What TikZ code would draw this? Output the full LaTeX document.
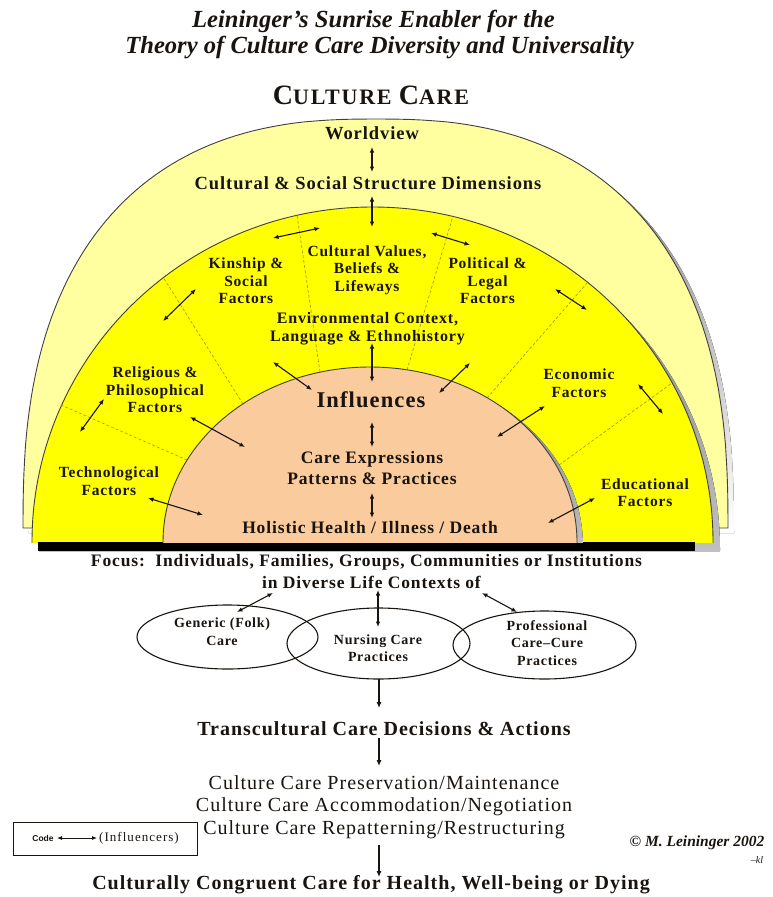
\documentclass[tikz,border=0pt]{standalone}
\usepackage{fontspec}
\setmainfont{Liberation Serif}
\setsansfont{Liberation Sans}
\newfontfamily\spaced[LetterSpace=5]{Liberation Serif}
\newfontfamily\wide[LetterSpace=8]{Liberation Serif}
\newfontfamily\headfont{Liberation Serif Bold Italic}
\usetikzlibrary{arrows.meta,shapes.geometric}

\definecolor{pale}{RGB}{255,255,160}
\definecolor{sun}{RGB}{255,255,0}
\definecolor{peach}{RGB}{250,203,156}
\definecolor{shade}{RGB}{128,128,128}
\definecolor{ink}{RGB}{25,20,15}
\definecolor{divider}{RGB}{150,150,30}

\tikzset{
  infl/.style={{Latex[length=5.5pt,width=4.5pt]}-{Latex[length=5.5pt,width=4.5pt]}, line width=1.1pt, draw=ink},
  flow/.style={-{Latex[length=6pt,width=5pt]}, line width=1.1pt, draw=ink},
  rim/.style={draw=black!75, line width=0.9pt},
  sector/.style={draw=divider, densely dashed, line width=0.6pt},
  factor/.style={font=\spaced\bfseries\fontsize{15.5}{17.5}\selectfont, align=center, text=ink, inner sep=0pt},
  layer/.style={font=\spaced\bfseries\fontsize{18.5}{20}\selectfont, text=ink, inner sep=0pt},
  core/.style={font=\spaced\bfseries\fontsize{17.5}{21}\selectfont, align=center, text=ink, inner sep=0pt},
  focus/.style={font=\spaced\bfseries\fontsize{17.5}{20}\selectfont, text=ink, inner sep=0pt},
  action/.style={font=\spaced\bfseries\fontsize{20}{22}\selectfont, text=ink, inner sep=0pt},
  mode/.style={font=\spaced\fontsize{20}{22}\selectfont, text=ink, inner sep=0pt},
  practice/.style={font=\spaced\bfseries\fontsize{14}{17.5}\selectfont, align=center, text=ink, inner sep=0pt},
  practiceoval/.style={draw=ink, line width=1.1pt, ellipse, inner sep=0pt},
  title/.style={font=\headfont\fontsize{24.6}{26}\selectfont, text=ink, inner sep=0pt}
}

\begin{document}
\begin{tikzpicture}[x=1pt,y=-1pt]
\useasboundingbox (0,0) rectangle (772,897);
\fill[white] (0,0) rectangle (772,897);

% ---- headings
\node[title] (t1) at (373.5,21) {Leininger’s Sunrise Enabler for the};
\node[title] (t2) at (379.5,47) {Theory of Culture Care Diversity and Universality};
\node[font=\wide\bfseries\fontsize{22}{22}\selectfont, text=ink, inner sep=0pt] (cc) at (371,95)
  {{\fontsize{28}{28}\selectfont C}ULTURE {\fontsize{28}{28}\selectfont C}ARE};

% ---- outer dome (worldview): a superellipse cap, with its shadow
\begin{scope}[shift={(6,5)}]
\fill[shade] plot[domain=0:90, samples=60] ({375.5+352.5*pow(abs(cos(\x)),0.8)}, {528-409*pow(abs(sin(\x)),0.8)})
  -- plot[domain=90:180, samples=60] ({375.5-352.5*pow(abs(cos(\x)),0.8)}, {528-409*pow(abs(sin(\x)),0.8)}) -- cycle;
\end{scope}
\filldraw[fill=pale, rim] plot[domain=0:90, samples=60] ({375.5+352.5*pow(abs(cos(\x)),0.8)}, {528-409*pow(abs(sin(\x)),0.8)})
  -- plot[domain=90:180, samples=60] ({375.5-352.5*pow(abs(cos(\x)),0.8)}, {528-409*pow(abs(sin(\x)),0.8)}) -- cycle;

% ---- cultural & social structure ring
\begin{scope}
\clip (0,0) rectangle (772,551);
\fill[shade] (379.5,549) ellipse [x radius=340.5, y radius=335];
\end{scope}
\begin{scope}
\clip (0,0) rectangle (772,542.5);
\fill[sun] (372.5,542) ellipse [x radius=340.5, y radius=335];
\draw[rim] (372.5,542) ellipse [x radius=340.5, y radius=335];
\end{scope}
\fill[black] (38,542) rectangle (695,551);

% sector dividers
\draw[sector] (187,460) -- (61,405);
\draw[sector] (243,404) -- (163,277);
\draw[sector] (320,372) -- (297,215);
\draw[sector] (407,370) -- (453,216);
\draw[sector] (487,398) -- (588,282);
\draw[sector] (555,468) -- (672,383);

% ---- inner half (care) with its shadow
\begin{scope}
\clip (0,0) rectangle (772,542.5);
\fill[shade] (376,546) ellipse [x radius=207, y radius=175];
\fill[peach] (370,542) ellipse [x radius=207, y radius=175];
\draw[rim] (370,542) ellipse [x radius=207, y radius=175];
\end{scope}

% ---- labels inside the dome
\node[layer] (wv) at (372,133) {Worldview};
\node[layer] (css) at (368,183) {Cultural \& Social Structure Dimensions};
\node[factor] (kin) at (246,281) {Kinship \&\\Social\\Factors};
\node[factor] (cvb) at (367,270) {Cultural Values,\\Beliefs \&\\Lifeways};
\node[factor] (pol) at (487.5,281) {Political \&\\Legal\\Factors};
\node[factor, font=\spaced\bfseries\fontsize{16}{18}\selectfont] (env) at (367.5,329) {Environmental Context,\\Language \& Ethnohistory};
\node[factor] (rel) at (155,390) {Religious \&\\Philosophical\\Factors};
\node[factor] (tech) at (109,481) {Technological\\Factors};
\node[factor] (econ) at (579,383) {Economic\\Factors};
\node[factor] (edu) at (645,492.5) {Educational\\Factors};
\node[core, font=\spaced\bfseries\fontsize{22.5}{24}\selectfont] (infl) at (371,400) {Influences};
\node[core] (care) at (372,468.5) {Care Expressions\\Patterns \& Practices};
\node[core] (hol) at (370,528) {Holistic Health / Illness / Death};

% arrow end points inside the dome
\coordinate (wvA) at (372,147);   \coordinate (wvB) at (372,172);
\coordinate (csA) at (372,196);   \coordinate (csB) at (372,227);
\coordinate (kinA) at (273,238);  \coordinate (kinB) at (320,228);
\coordinate (polA) at (431,233);  \coordinate (polB) at (470,245);
\coordinate (relA) at (163,321);  \coordinate (relB) at (196,289);
\coordinate (tecA) at (80,432);   \coordinate (tecB) at (104,399);
\coordinate (ecoA) at (555,289);  \coordinate (ecoB) at (587,310);
\coordinate (eduA) at (638,384);  \coordinate (eduB) at (663,414);
\coordinate (envA) at (372,343);  \coordinate (envB) at (372,382);
\coordinate (elA) at (273,362);   \coordinate (elB) at (312,390);
\coordinate (erA) at (470,363);   \coordinate (erB) at (439,393);
\coordinate (rpA) at (190,417);   \coordinate (rpB) at (245,447);
\coordinate (epA) at (545,406);   \coordinate (epB) at (497,437);
\coordinate (tpA) at (148,498);   \coordinate (tpB) at (203,515);
\coordinate (dpA) at (595,498);   \coordinate (dpB) at (548,523);
\coordinate (icA) at (372,422);   \coordinate (icB) at (372,447);
\coordinate (chA) at (372,493);   \coordinate (chB) at (372,518);

\draw[infl] (wvA) -- (wvB);
\draw[infl] (csA) -- (csB);
\draw[infl] (kinA) -- (kinB);
\draw[infl] (polA) -- (polB);
\draw[infl] (relA) -- (relB);
\draw[infl] (tecA) -- (tecB);
\draw[infl] (ecoA) -- (ecoB);
\draw[infl] (eduA) -- (eduB);
\draw[infl] (envA) -- (envB);
\draw[infl] (elA) -- (elB);
\draw[infl] (erA) -- (erB);
\draw[infl] (rpA) -- (rpB);
\draw[infl] (epA) -- (epB);
\draw[infl] (tpA) -- (tpB);
\draw[infl] (dpA) -- (dpB);
\draw[infl] (icA) -- (icB);
\draw[infl] (chA) -- (chB);

% ---- focus and care systems
\node[focus] (foc1) at (366.5,562) {Focus:\ \ Individuals, Families, Groups, Communities or Institutions};
\node[focus] (foc2) at (371.5,582) {in Diverse Life Contexts of};

\node[practiceoval, minimum width=181pt, minimum height=64pt] (genE) at (227.5,637) {};
\node[practiceoval, minimum width=183pt, minimum height=71pt] (nurE) at (378.5,643.5) {};
\node[practiceoval, minimum width=183pt, minimum height=68pt] (proE) at (544.5,645) {};
\node[practice] (gen) at (222,631.5) {Generic (Folk)\\Care};
\node[practice] (nur) at (378,648) {Nursing Care\\Practices};
\node[practice] (pro) at (547,643) {Professional\\Care–Cure\\Practices};

\coordinate (fgA) at (273,593);  \coordinate (fgB) at (237,612);
\coordinate (fnA) at (378,590);  \coordinate (fnB) at (378,627);
\coordinate (fpA) at (482,593);  \coordinate (fpB) at (517,612);
\draw[infl] (fgA) -- (fgB);
\draw[infl] (fnA) -- (fnB);
\draw[infl] (fpA) -- (fpB);

% ---- decisions and outcome
\node[action] (dec) at (384,729) {Transcultural Care Decisions \& Actions};
\node[mode] (m1) at (384,783) {Culture Care Preservation/Maintenance};
\node[mode] (m2) at (384,806.5) {Culture Care Accommodation/Negotiation};
\node[mode] (m3) at (384,830) {Culture Care Repatterning/Restructuring};
\node[action] (out) at (371,885) {Culturally Congruent Care for Health, Well-being or Dying};

\coordinate (d1A) at (379,679); \coordinate (d1B) at (379,708);
\coordinate (d2A) at (379,738); \coordinate (d2B) at (379,766);
\coordinate (d3A) at (379,845); \coordinate (d3B) at (379,877);
\draw[flow] (d1A) -- (d1B);
\draw[flow] (d2A) -- (d2B);
\draw[flow] (d3A) -- (d3B);

% ---- key
\node[draw=ink, line width=0.9pt, minimum width=184pt, minimum height=33pt, inner sep=0pt] (key) at (105,838.5) {};
\node[font=\sffamily\bfseries\fontsize{8.5}{10}\selectfont, text=ink, inner sep=0pt] (code) at (43,838) {Code};
\node[font=\wide\fontsize{13}{14}\selectfont, text=ink, inner sep=0pt] (infk) at (139,838) {(Influencers)};
\coordinate (kA) at (57,838); \coordinate (kB) at (97,838);
\draw[{Latex[length=5pt,width=4pt]}-{Latex[length=5pt,width=4pt]}, line width=0.8pt, ink] (kA) -- (kB);

% ---- credit
\node[font=\headfont\fontsize{15.5}{16}\selectfont, text=ink, inner sep=0pt] (copy) at (697,843) {© M. Leininger 2002};
\node[font=\itshape\fontsize{10}{10}\selectfont, text=ink, inner sep=0pt] (kl) at (757,860) {–kl};
\end{tikzpicture}
\end{document}
